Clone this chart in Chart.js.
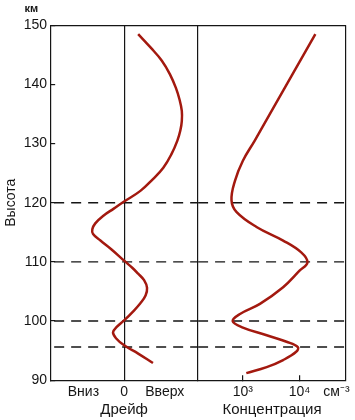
<!DOCTYPE html>
<html>
<head>
<meta charset="utf-8">
<script src="https://cdn.jsdelivr.net/npm/chart.js@4"></script>
<style>
  html, body { margin: 0; padding: 0; background: #fff; }
</style>
</head>
<body>
<canvas id="chart" width="355" height="420"></canvas>
<script>
  // heights, km
  const driftHeights = [148.5, 146.2, 144.0, 141.7, 139.4, 137.4, 135.5, 133.8, 132.2, 130.5, 128.2, 125.9, 124.0, 122.0, 120.2, 119.0, 117.8, 116.5, 115.5, 114.7, 113.6, 112.1, 110.2, 109.0, 108.0, 106.9, 105.6, 104.3, 103.0, 101.6, 100.1, 99.0, 98.1, 97.1, 95.9, 94.5, 92.9];
  // drift, relative units (down < 0 < up)
  const driftValues = [0.19, 0.36, 0.51, 0.62, 0.70, 0.75, 0.78, 0.78, 0.76, 0.72, 0.64, 0.53, 0.39, 0.22, 0.0, -0.14, -0.28, -0.39, -0.43, -0.42, -0.32, -0.17, 0.0, 0.11, 0.19, 0.27, 0.31, 0.29, 0.22, 0.12, 0.0, -0.10, -0.15, -0.11, 0.0, 0.19, 0.39];

  const concHeights = [148.5, 134.9, 130.5, 127.1, 123.7, 120.4, 118.4, 115.9, 113.6, 111.6, 109.9, 108.5, 105.7, 102.9, 101.2, 100.0, 98.9, 97.6, 96.5, 95.6, 94.8, 93.4, 92.2, 91.2];
  // concentration, cm^-3
  const concValues = [19000, 2950, 1620, 1000, 725, 630, 776, 1740, 5130, 10700, 13800, 10000, 5130, 2000, 890, 660, 1000, 2630, 5890, 9330, 8710, 5130, 2630, 1150];

  const dashHeights = [120, 110, 100, 95.6];

  const driftTicks = [-0.55, 0, 0.55];
  const driftTickLabels = ['Вниз', '0', 'Вверх'];
  const concTicks = [1000, 10000, 44700];
  const concTickLabels = ['10³', '10⁴', 'см⁻³'];

  const DRIFT_MIN = -1, DRIFT_MAX = 1;
  const CONC_MIN = 162, CONC_MAX = 66000;

  const ink = '#151515';
  const red = '#a3190f';

  Chart.defaults.font.family = "'Liberation Sans', Arial, sans-serif";
  Chart.defaults.color = ink;

  function dashData(xMin, xMax) {
    var out = [];
    dashHeights.forEach(h => {
      out.push({ x: xMin, y: h }, { x: xMax, y: h }, { x: null, y: null });
    });
    return out;
  }

  var canvas = document.getElementById('chart').getContext('2d');

  var chart = new Chart(canvas, {
    type: 'scatter',
    data: {
      datasets: [{
        data: driftHeights.map((h, i) => ({ x: driftValues[i], y: h })),
        xAxisID: 'x',
        showLine: true,
        tension: 0.4,
        borderColor: red,
        borderWidth: 2.5,
        pointRadius: 0
      }, {
        data: concHeights.map((h, i) => ({ x: concValues[i], y: h })),
        xAxisID: 'xc',
        showLine: true,
        tension: 0.4,
        borderColor: red,
        borderWidth: 2.5,
        pointRadius: 0
      }, {
        data: dashData(DRIFT_MIN, DRIFT_MAX),
        xAxisID: 'x',
        showLine: true,
        spanGaps: false,
        borderColor: ink,
        borderWidth: 1.4,
        borderDash: [10, 7],
        borderDashOffset: -4,
        pointRadius: 0
      }, {
        data: dashData(CONC_MIN, CONC_MAX),
        xAxisID: 'xc',
        showLine: true,
        spanGaps: false,
        borderColor: ink,
        borderWidth: 1.4,
        borderDash: [10, 7],
        pointRadius: 0
      }]
    },
    options: {
      responsive: false,
      animation: false,
      events: [],
      layout: {
        padding: { left: 3, right: 8, top: 0, bottom: 1 }
      },
      plugins: {
        legend: { display: false },
        tooltip: { enabled: false },
        title: {
          display: true,
          text: '       км',
          align: 'start',
          color: ink,
          font: { size: 11, weight: 'bold' },
          padding: { top: 2, bottom: 10 }
        }
      },
      scales: {
        y: {
          type: 'linear',
          position: 'left',
          min: 90,
          max: 150,
          ticks: { stepSize: 10, padding: 8, color: ink, font: { size: 14 } },
          grid: {
            drawOnChartArea: true,
            tickLength: -5,
            tickColor: ink,
            lineWidth: 1.2,
            color: ctx => (ctx.tick && ctx.tick.value === 150) ? ink : 'transparent'
          },
          border: { display: true, color: ink, width: 1.2 },
          title: {
            display: true,
            text: 'Высота',
            color: ink,
            font: { size: 14 },
            padding: { top: 0, bottom: -4 }
          }
        },
        x: {
          type: 'linear',
          position: 'bottom',
          stack: 'panels',
          stackWeight: 1,
          min: DRIFT_MIN,
          max: DRIFT_MAX,
          afterBuildTicks: scale => {
            scale.ticks = [DRIFT_MIN].concat(driftTicks, [DRIFT_MAX]).map(v => ({ value: v }));
          },
          ticks: {
            autoSkip: false,
            maxRotation: 0,
            padding: 4,
            color: ink,
            font: { size: 14 },
            callback: v => {
              var i = driftTicks.indexOf(v);
              return i >= 0 ? driftTickLabels[i] : '';
            }
          },
          grid: {
            drawTicks: false,
            lineWidth: 1.2,
            color: ctx => (ctx.tick && (ctx.tick.value === 0 || ctx.tick.value === DRIFT_MAX)) ? ink : 'transparent'
          },
          border: { display: true, color: ink, width: 1.2 },
          title: {
            display: true,
            text: 'Дрейф',
            color: ink,
            font: { size: 15 },
            padding: { top: -9, bottom: 0 }
          }
        },
        xc: {
          type: 'logarithmic',
          position: 'bottom',
          stack: 'panels',
          stackWeight: 1,
          min: CONC_MIN,
          max: CONC_MAX,
          afterBuildTicks: scale => {
            scale.ticks = [CONC_MIN].concat(concTicks, [CONC_MAX]).map(v => ({ value: v }));
          },
          ticks: {
            autoSkip: false,
            maxRotation: 0,
            padding: 9,
            color: ink,
            font: { size: 14 },
            callback: v => {
              var i = concTicks.indexOf(v);
              return i >= 0 ? concTickLabels[i] : '';
            }
          },
          grid: {
            tickLength: -5,
            lineWidth: 1.2,
            tickColor: ctx => (ctx.tick && (ctx.tick.value === 1000 || ctx.tick.value === 10000)) ? ink : 'transparent',
            color: ctx => (ctx.tick && ctx.tick.value === CONC_MAX) ? ink : 'transparent'
          },
          border: { display: true, color: ink, width: 1.2 },
          title: {
            display: true,
            text: 'Концентрация',
            color: ink,
            font: { size: 15 },
            padding: { top: -9, bottom: 0 }
          }
        }
      }
    }
  });
</script>
</body>
</html>
